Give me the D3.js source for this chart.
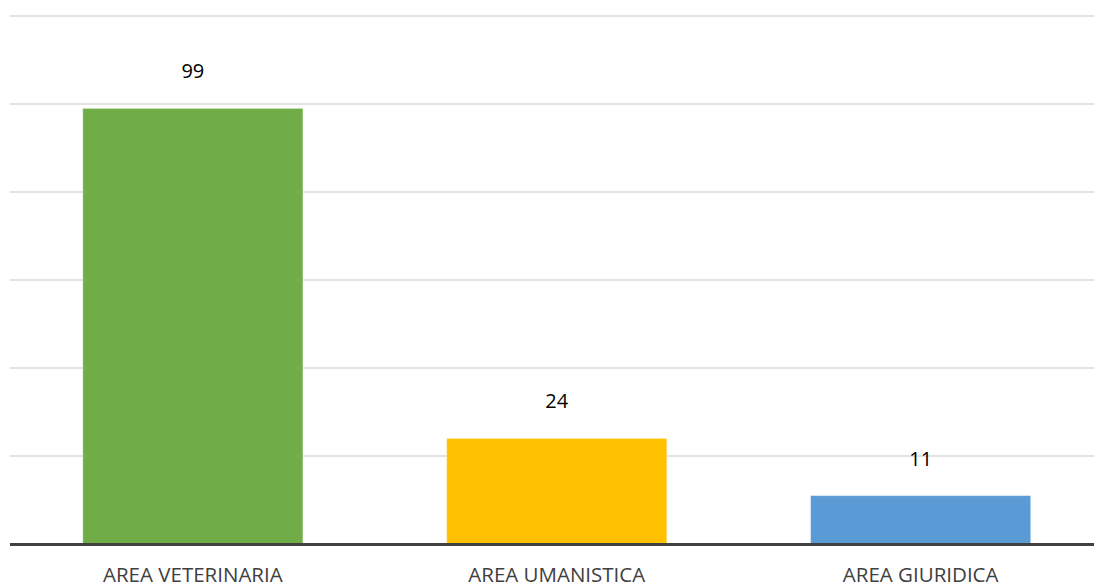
<!DOCTYPE html>
<html>
<head>
<meta charset="utf-8">
<script src="https://cdn.jsdelivr.net/npm/d3@7"></script>
<style>
body { margin: 0; background: #fff; }
text { font-family: "Open Sans", "Noto Sans", sans-serif; }
</style>
</head>
<body>
<svg id="chart" width="1094" height="585"></svg>
<script>
var categories = ["AREA VETERINARIA", "AREA UMANISTICA", "AREA GIURIDICA"];
var values = [99, 24, 11];
var colors = ["#70AD47", "#FFC000", "#5B9BD5"];
var gridTicks = [20, 40, 60, 80, 100, 120];

var svg = d3.select("#chart");
var plotLeft = 10, plotRight = 1103.5, plotTop = 16, plotBottom = 544;

var x = d3.scaleBand().domain(categories).range([plotLeft, plotRight]).paddingInner(0.395).paddingOuter(0.2);
var y = d3.scaleLinear().domain([0, 120]).range([plotBottom, plotTop]);

// gridlines
svg.append("g").selectAll("line").data(gridTicks).enter().append("line")
    .attr("x1", plotLeft).attr("x2", 1094)
    .attr("y1", function(d) { return y(d); }).attr("y2", function(d) { return y(d); })
    .attr("stroke", "#D9D9D9").attr("stroke-width", 1.3);

// bars
svg.append("g").selectAll("rect").data(values).enter().append("rect")
    .attr("x", function(d, i) { return x(categories[i]); })
    .attr("width", x.bandwidth())
    .attr("y", function(d) { return y(d); })
    .attr("height", function(d) { return plotBottom - y(d); })
    .attr("fill", function(d, i) { return colors[i]; })
    .attr("stroke", "#fff").attr("stroke-opacity", 0.4).attr("stroke-width", 1);

// value labels
svg.append("g").selectAll("text").data(values).enter().append("text")
    .attr("x", function(d, i) { return x(categories[i]) + x.bandwidth() / 2; })
    .attr("y", function(d) { return y(d) - 30; })
    .attr("text-anchor", "middle")
    .attr("font-size", "20px").attr("fill", "#000")
    .text(function(d) { return d; });

// baseline
svg.append("line").attr("x1", plotLeft).attr("x2", 1094)
    .attr("y1", plotBottom + 0.5).attr("y2", plotBottom + 0.5)
    .attr("stroke", "#404040").attr("stroke-width", 3);

// category labels
svg.append("g").selectAll("text").data(categories).enter().append("text")
    .attr("x", function(d) { return x(d) + x.bandwidth() / 2; })
    .attr("y", 582)
    .attr("text-anchor", "middle")
    .attr("font-size", "20.5px").attr("fill", "#404040")
    .text(function(d) { return d; });
</script>
</body>
</html>
